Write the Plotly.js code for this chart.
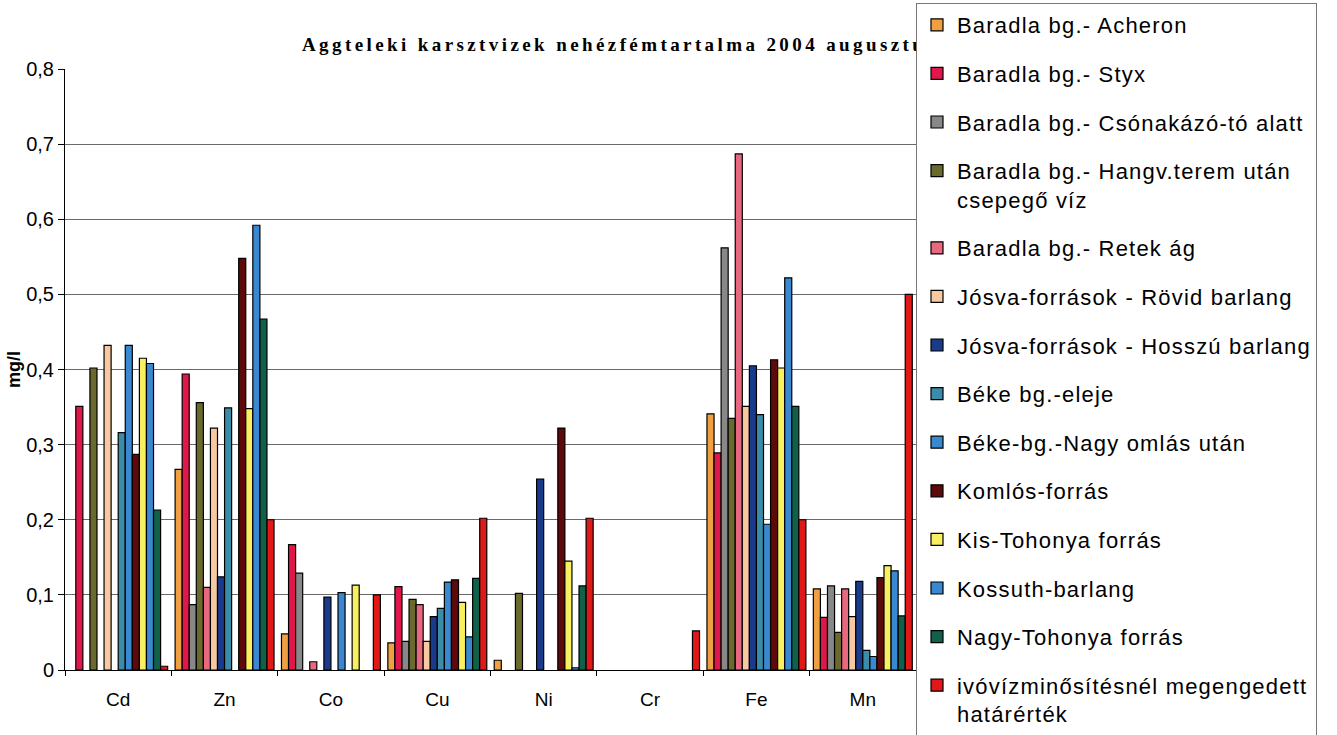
<!DOCTYPE html>
<html>
<head>
<meta charset="utf-8">
<script src="https://cdn.plot.ly/plotly-3.0.1.min.js"></script>
<style>
html,body{margin:0;padding:0;background:#fff;}
#chart{width:1337px;height:735px;}
.gtitle{letter-spacing:3.4px;}
.legendtext{letter-spacing:1.2px;}
</style>
</head>
<body>
<div id="chart"></div>
<script>
const categories = ["Cd", "Zn", "Co", "Cu", "Ni", "Cr", "Fe", "Mn"];

const seriesNames = [
  "Baradla bg.- Acheron",
  "Baradla bg.- Styx",
  "Baradla bg.- Csónakázó-tó alatt",
  "Baradla bg.- Hangv.terem után<br>csepegő víz",
  "Baradla bg.- Retek ág",
  "Jósva-források - Rövid barlang",
  "Jósva-források - Hosszú barlang",
  "Béke bg.-eleje",
  "Béke-bg.-Nagy omlás után",
  "Komlós-forrás",
  "Kis-Tohonya forrás",
  "Kossuth-barlang",
  "Nagy-Tohonya forrás",
  "ivóvízminősítésnél megengedett<br>határérték"
];

const acheron      = [null, 0.267, 0.048, 0.036, 0.013, null, 0.341, 0.108];
const styx         = [0.351, 0.394, 0.167, 0.111, null, null, 0.289, 0.070];
const csonakazo    = [null, 0.087, 0.129, 0.038, null, null, 0.562, 0.112];
const hangverem    = [0.402, 0.356, null, 0.094, 0.102, null, 0.335, 0.050];
const retek        = [null, 0.110, 0.011, 0.087, null, null, 0.687, 0.108];
const rovid        = [0.432, 0.322, null, 0.038, null, null, 0.351, 0.071];
const hosszu       = [null, 0.124, 0.097, 0.071, 0.254, null, 0.405, 0.118];
const bekeEleje    = [0.316, 0.349, null, 0.082, null, null, 0.340, 0.026];
const bekeNagy     = [0.432, null, 0.103, 0.117, null, null, 0.194, 0.018];
const komlos       = [0.287, 0.548, null, 0.120, 0.322, null, 0.413, 0.123];
const kisTohonya   = [0.415, 0.348, 0.113, 0.090, 0.145, null, 0.402, 0.139];
const kossuth      = [0.408, 0.592, null, 0.044, 0.003, null, 0.522, 0.132];
const nagyTohonya  = [0.213, 0.467, null, 0.122, 0.112, null, 0.351, 0.072];
const hatarertek   = [0.005, 0.200, 0.100, 0.202, 0.202, 0.052, 0.200, 0.500];

const seriesValues = [acheron, styx, csonakazo, hangverem, retek, rovid, hosszu,
  bekeEleje, bekeNagy, komlos, kisTohonya, kossuth, nagyTohonya, hatarertek];

const colors = ["#F0A040", "#E0174A", "#888888", "#6B6A2E", "#E86880", "#F8C8A0",
  "#1A3A8C", "#3A8CA8", "#3A88D0", "#5C0A0A", "#F8F060", "#3A88D0", "#10604A", "#E01818"];

const yTickVals = [0, 0.1, 0.2, 0.3, 0.4, 0.5, 0.6, 0.7, 0.8];
const yTickText = ["0", "0,1", "0,2", "0,3", "0,4", "0,5", "0,6", "0,7", "0,8"];

const traces = seriesValues.map((vals, i) => ({
  type: "bar",
  name: seriesNames[i],
  x: categories,
  y: vals,
  legendgroup: "g" + i,
  marker: { color: colors[i], line: { color: "#000", width: 1.2 } },
  hoverinfo: "x+y+name"
}));

const layout = {
  width: 1337,
  height: 735,
  paper_bgcolor: "#ffffff",
  plot_bgcolor: "#ffffff",
  separators: ", ",
  margin: { l: 65, r: 419, t: 69, b: 65, pad: 0 },
  barmode: "group",
  bargap: 0.07,
  bargroupgap: 0,
  title: {
    text: "<b>Aggteleki karsztvizek nehézfémtartalma 2004 augusztusában</b>",
    font: { family: "Liberation Serif, Times New Roman, serif", size: 19, color: "#000" },
    xref: "container", yref: "container",
    x: 302 / 1337, xanchor: "left",
    y: 1 - 44 / 735, yanchor: "middle"
  },
  xaxis: {
    type: "category",
    showline: true, linecolor: "#000", linewidth: 1,
    ticks: "outside", tickson: "boundaries", ticklen: 5, tickcolor: "#000",
    ticklabelstandoff: 12,
    tickfont: { family: "Liberation Sans, Arial, sans-serif", size: 19, color: "#000" },
    showgrid: false,
    fixedrange: true
  },
  yaxis: {
    range: [0, 0.8],
    tickvals: yTickVals,
    ticktext: yTickText,
    showline: true, linecolor: "#000", linewidth: 1,
    ticks: "outside", ticklen: 6, tickcolor: "#000",
    tickfont: { family: "Liberation Sans, Arial, sans-serif", size: 20, color: "#000" },
    showgrid: true, gridcolor: "#6a6a6a", gridwidth: 1,
    zeroline: false,
    title: {
      text: "<b>mg/l</b>",
      font: { family: "Liberation Sans, Arial, sans-serif", size: 18, color: "#000" },
      standoff: 0
    },
    fixedrange: true
  },
  legend: {
    xref: "container", yref: "container",
    x: 916 / 1337, xanchor: "left",
    y: 1 - 3 / 735, yanchor: "top",
    maxheight: 735,
    bgcolor: "#ffffff",
    bordercolor: "#777",
    borderwidth: 1,
    traceorder: "grouped",
    tracegroupgap: 17,
    valign: "top",
    font: { family: "Liberation Sans, Arial, sans-serif", size: 22, color: "#000" }
  },
  showlegend: true
};

Plotly.newPlot("chart", traces, layout, { displayModeBar: false, staticPlot: true }).then(gd => {
  const info = gd.querySelector(".infolayer");
  const leg = info && info.querySelector(".legend");
  if (info && leg) info.appendChild(leg);
});
</script>
</body>
</html>
